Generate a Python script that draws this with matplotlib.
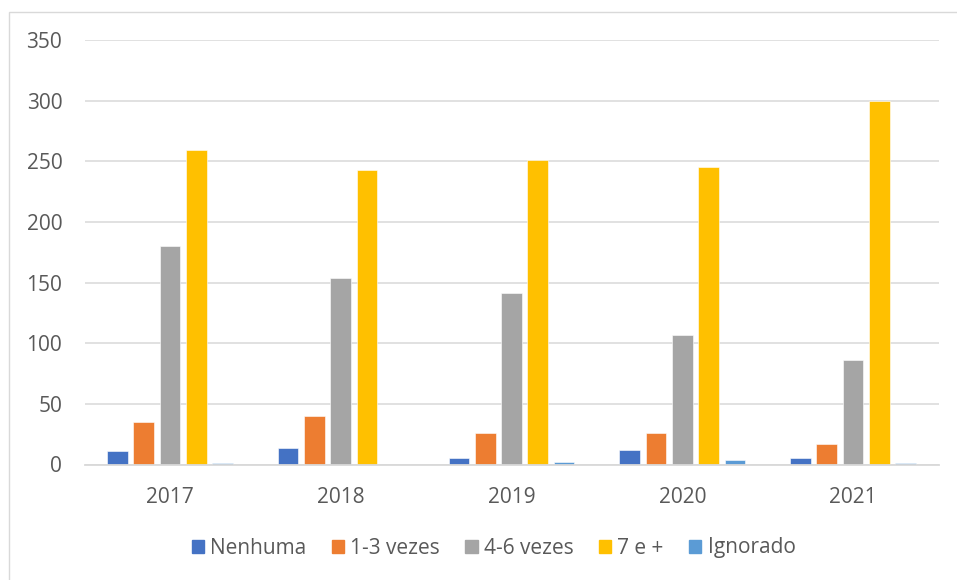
import matplotlib
matplotlib.use('Agg')
import matplotlib.pyplot as plt
import matplotlib.patches as mpatches
import numpy as np

# yearly counts per category
years = ['2017', '2018', '2019', '2020', '2021']
series_names = ['Nenhuma', '1-3 vezes', '4-6 vezes', '7 e +', 'Ignorado']
nenhuma = [11, 14, 5, 12, 5]
vezes_1_3 = [35, 40, 26, 26, 17]
vezes_4_6 = [180, 154, 141, 107, 86]
sete_mais = [259, 243, 251, 245, 300]
ignorado = [1, 0, 2, 4, 1]

series = [nenhuma, vezes_1_3, vezes_4_6, sete_mais, ignorado]
colors = ['#4472C4', '#ED7D31', '#A5A5A5', '#FFC000', '#5B9BD5']
text_color = '#595959'
grid_color = '#D9D9D9'

plt.rcParams['font.family'] = ['Open Sans', 'DejaVu Sans']

W, H = 957, 580
fig = plt.figure(figsize=(W / 100, H / 100), dpi=100)
fig.patch.set_facecolor('white')

# chart-area frame (only the top and left edges fall inside the image)
fig.add_artist(mpatches.Rectangle((9 / W, -0.05), 1.2, (H - 12) / H + 0.05,
                                  transform=fig.transFigure, fill=False,
                                  edgecolor=grid_color, linewidth=1.0))

ax = fig.add_axes([84.5 / W, (H - 464.5) / H, 854 / W, 424.5 / H])

x = np.arange(len(years))
pitch = 0.154
width = 0.121
for i, (vals, col, name) in enumerate(zip(series, colors, series_names)):
    ax.bar(x + (i - 2) * pitch, vals, width=width, color=col, label=name,
           edgecolor='white', linewidth=0.4, zorder=3)

ax.set_xlim(-0.5, len(years) - 0.5)
ax.set_ylim(0, 350)
ax.set_yticks(np.arange(0, 351, 50))
ax.set_xticks(x)
ax.set_xticklabels(years)

ax.yaxis.grid(True, color=grid_color, linewidth=1.1, zorder=0)
ax.set_axisbelow(True)
for side in ['top', 'right', 'left']:
    ax.spines[side].set_visible(False)
ax.spines['bottom'].set_color(grid_color)
ax.spines['bottom'].set_linewidth(1.3)
ax.spines['bottom'].set_zorder(4)

ax.tick_params(axis='both', length=0, labelsize=15, colors=text_color)
ax.tick_params(axis='y', pad=16)
ax.tick_params(axis='x', pad=16)

handles = [mpatches.Patch(color=c) for c in colors]
fig.legend(handles, series_names, loc='center', ncol=5,
           bbox_to_anchor=(493.5 / W, 1 - 548 / H), frameon=False,
           fontsize=15, labelcolor=text_color, handlelength=0.6,
           handleheight=0.6, handletextpad=0.3, columnspacing=1.2)

fig.savefig('out.png', dpi=100, facecolor='white')
